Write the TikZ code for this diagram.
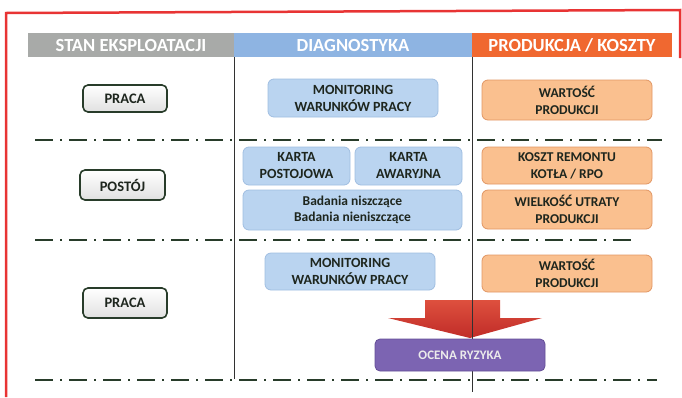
\documentclass[tikz,border=0pt]{standalone}
\usepackage{fontspec}
\setmainfont{Carlito}
\definecolor{redb}{RGB}{232,52,52}
\definecolor{hgray}{RGB}{168,170,168}
\definecolor{hblue}{RGB}{142,180,226}
\definecolor{horange}{RGB}{240,104,48}
\definecolor{bfill}{RGB}{186,212,240}
\definecolor{bdraw}{RGB}{160,190,225}
\definecolor{ofill}{RGB}{250,192,143}
\definecolor{odraw}{RGB}{225,150,100}
\definecolor{ptext}{RGB}{30,38,30}
\definecolor{dashc}{RGB}{40,60,42}
\definecolor{purp}{RGB}{124,100,178}
\definecolor{purpd}{RGB}{100,78,150}
\definecolor{arrtop}{RGB}{222,80,62}
\definecolor{arrbot}{RGB}{192,44,40}
\definecolor{vline}{RGB}{50,50,50}
\tikzset{
  hdr/.style={draw=none, inner sep=0pt, text=white, font=\fontsize{18.5}{18.5}\selectfont\bfseries},
  bluebox/.style={rounded corners=6pt, fill=bfill, draw=bdraw, line width=0.8pt, inner sep=0pt, align=center, text=ptext, font=\fontsize{14}{17}\selectfont\bfseries},
  orbox/.style={rounded corners=6pt, fill=ofill, draw=odraw, line width=0.8pt, inner sep=0pt, align=center, text=ptext, font=\fontsize{13.5}{17}\selectfont\bfseries},
  statebox/.style={rounded corners=5pt, top color=white, bottom color=black!12, draw=dashc, line width=1.6pt, inner sep=0pt, align=center, text=ptext, font=\fontsize{14.5}{16}\selectfont\bfseries},
  sepline/.style={draw=dashc, line width=2.4pt, dash pattern=on 18pt off 7pt on 2pt off 7pt},
  colline/.style={draw=vline, line width=0.9pt},
  riskbox/.style={rounded corners=5pt, fill=purp, draw=purpd, line width=0.8pt, inner sep=0pt, text=white!92!black, font=\fontsize{13}{15}\selectfont\bfseries},
  bigarrow/.style={top color=arrtop, bottom color=arrbot, draw=none}
}
\begin{document}
\begin{tikzpicture}[x=1pt,y=-1pt]
\path[use as bounding box] (0,0) rectangle (682,397);
% red frame
\draw[redb, line width=2.5pt] (6,397) -- (6,13) -- (680,10) -- (680,58);
% header bands
\node[hdr, fill=hgray, minimum width=206pt, minimum height=24pt] (h1) at (131,45) {STAN EKSPLOATACJI};
\node[hdr, fill=hblue, minimum width=238pt, minimum height=24pt] (h2) at (353,45) {DIAGNOSTYKA};
\node[hdr, fill=horange, minimum width=200pt, minimum height=24pt] (h3) at (572,45) {PRODUKCJA / KOSZTY};
% column lines
\coordinate (v1t) at (234,57); \coordinate (v1b) at (234,379);
\coordinate (v2t) at (472,57); \coordinate (v2b) at (472,392);
\draw[colline] (v1t) -- (v1b);
% separator lines
\coordinate (s1a) at (35,140); \coordinate (s1b) at (662,140);
\coordinate (s2a) at (35,240); \coordinate (s2b) at (634,240);
\coordinate (s3a) at (35,380); \coordinate (s3b) at (657,380);
\draw[sepline] (s1a) -- (s1b);
\draw[sepline] (s2a) -- (s2b);
\draw[sepline] (s3a) -- (s3b);
% arrow
\path[bigarrow] (425,300) -- (500,300) -- (500,318) -- (542,318) -- (470,338) -- (388,318) -- (425,318) -- cycle;
\draw[colline] (v2t) -- (v2b);
% row 1
\node[statebox, minimum width=84pt, minimum height=27pt] (p1) at (125,98.5) {PRACA};
\node[bluebox, minimum width=170pt, minimum height=38pt] (m1) at (353,98) {MONITORING\\WARUNKÓW PRACY};
\node[orbox, minimum width=170pt, minimum height=40pt] (w1) at (567,100) {WARTOŚĆ\\PRODUKCJI};
% row 2
\node[statebox, minimum width=85pt, minimum height=30pt] (p2) at (122.5,185) {POSTÓJ};
\node[bluebox, minimum width=107pt, minimum height=38pt] (kp) at (296.5,166) {KARTA\\POSTOJOWA};
\node[bluebox, minimum width=107pt, minimum height=38pt] (ka) at (408.5,166) {KARTA\\AWARYJNA};
\node[bluebox, minimum width=219pt, minimum height=40pt, font=\fontsize{13.5}{16}\selectfont\bfseries] (bd) at (352.5,210) {Badania niszczące\\Badania nieniszczące};
\node[orbox, minimum width=170pt, minimum height=37pt] (kr) at (567,165.5) {KOSZT REMONTU\\KOTŁA / RPO};
\node[orbox, minimum width=170pt, minimum height=39pt] (wu) at (567,209.5) {WIELKOŚĆ UTRATY\\PRODUKCJI};
% row 3
\node[statebox, minimum width=84pt, minimum height=30pt] (p3) at (125,303) {PRACA};
\node[bluebox, minimum width=170pt, minimum height=37pt] (m2) at (350,271.5) {MONITORING\\WARUNKÓW PRACY};
\node[orbox, minimum width=170pt, minimum height=37pt] (w2) at (567,273.5) {WARTOŚĆ\\PRODUKCJI};
\node[riskbox, minimum width=170pt, minimum height=32pt] (oc) at (460,355) {OCENA RYZYKA};
\end{tikzpicture}
\end{document}
